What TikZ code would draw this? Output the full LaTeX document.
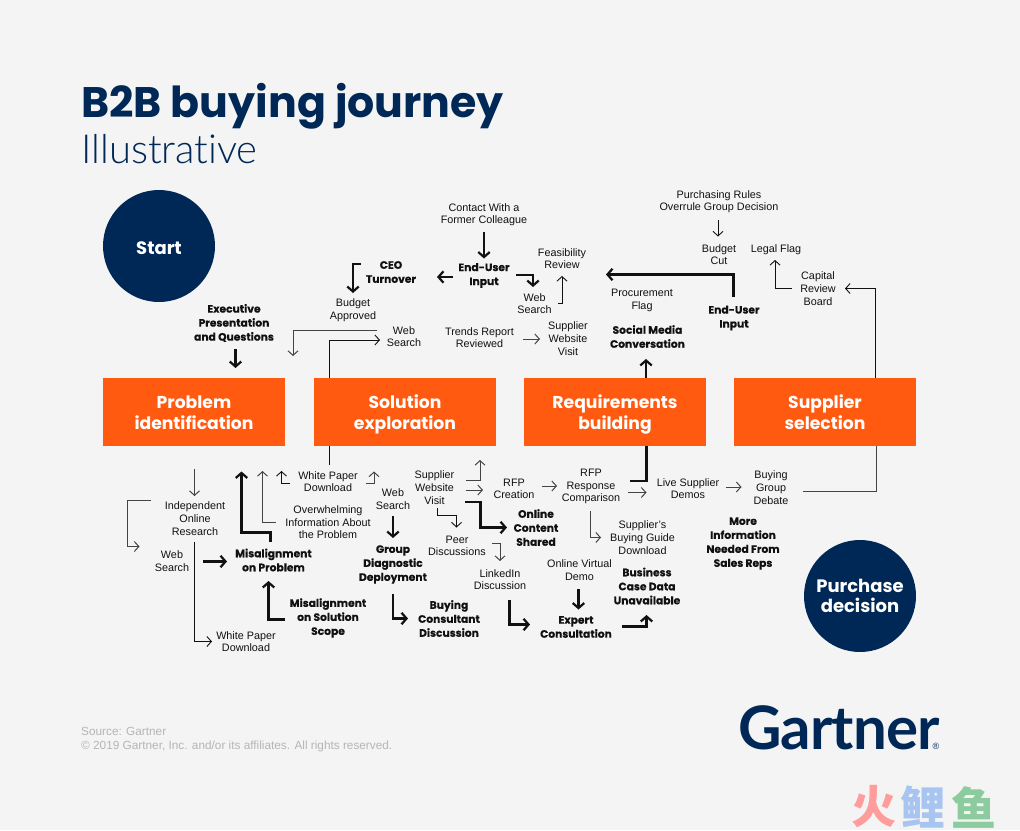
\documentclass[tikz,border=0pt]{standalone}
\usepackage{fontspec}
\setmainfont{Liberation Sans}
\newfontfamily\headfont{Poppins}
\newfontfamily\heavyfont{Poppins}[BoldFeatures={FakeBold=0.25}]
\newfontfamily\logofont{Lato}[LetterSpace=-1.5]
\newfontfamily\lightfont{Lato Light}[Ligatures=NoCommon]
\newfontfamily\cjkfont{Noto Sans CJK SC}
\usetikzlibrary{arrows.meta}
\definecolor{bgc}{HTML}{F4F4F4}
\definecolor{navy}{HTML}{002856}
\definecolor{orng}{HTML}{FF5A10}
\definecolor{ink}{HTML}{111111}
\definecolor{midgray}{HTML}{444444}
\definecolor{srcgray}{HTML}{B5B5B5}
\definecolor{wmred}{HTML}{FF9C9C}
\definecolor{wmblue}{HTML}{A8C4F0}
\definecolor{wmgreen}{HTML}{8CCB9E}
\tikzset{
  txt/.style={align=center,inner sep=0pt,yshift=-0.7pt,text=ink,font=\fontsize{10.8}{12.6}\selectfont},
  hvy/.style={align=center,inner sep=0pt,text=ink,font=\heavyfont\bfseries\fontsize{10.7}{14}\selectfont},
  stagebox/.style={fill=orng,minimum width=182pt,minimum height=68pt,inner sep=0pt,align=center,text=white,font=\headfont\bfseries\fontsize{17.2}{21}\selectfont},
  bubble/.style={circle,fill=navy,minimum size=112pt,inner sep=0pt,align=center,text=white,font=\headfont\bfseries},
  thinarrow/.style={draw=ink,line width=0.9pt,-{Straight Barb[length=4.5pt,width=10pt,line width=0.9pt]}},
  grayarrow/.style={draw=midgray,line width=1pt,-{Straight Barb[length=4.5pt,width=10pt,line width=1pt]}},
  thickarrow/.style={draw=ink,line width=2.2pt,-{Straight Barb[length=5pt,width=11.5pt,line width=2.2pt]}},
  plainline/.style={draw=ink,line width=0.9pt},
  thickline/.style={draw=ink,line width=2.2pt},
  wmark/.style={inner sep=0pt,font=\cjkfont\bfseries\fontsize{45}{45}\selectfont},
}
\newcommand{\boxtop}{\rule{0pt}{18pt}}
\begin{document}
\begin{tikzpicture}[x=1pt,y=-1pt]
\useasboundingbox (0,0) rectangle (1020,830);
\fill[bgc] (0,0) rectangle (1020,830);

% title
\node[anchor=base west,inner sep=0pt,text=navy,font=\headfont\bfseries\fontsize{42.7}{46}\selectfont] (title) at (81,117) {B2B buying journey};
\node[anchor=base west,inner sep=0pt,text=navy,font=\lightfont\fontsize{40}{44}\selectfont] (subtitle) at (81,163.5) {Illustrative};

% bubbles
\node[bubble,font=\headfont\bfseries\fontsize{18}{20}\selectfont] (start) at (159,246) {\rule{0pt}{17pt}Start};
\node[bubble,font=\headfont\bfseries\fontsize{18}{20}\selectfont] (purchase) at (860,596) {Purchase\\decision};

% stage boxes
\node[stagebox] (problem) at (194,412) {\boxtop Problem\\identification\vphantom{g}};
\node[stagebox] (solution) at (405,412) {\boxtop Solution\\exploration\vphantom{g}};
\node[stagebox] (requirements) at (615,412) {\boxtop Requirements\\building\vphantom{g}};
\node[stagebox] (selection) at (825,412) {\boxtop Supplier\\selection\vphantom{g}};

% upper texts
\node[txt] (contact) at (484,214) {Contact With a\\Former Colleague};
\node[hvy] (enduser) at (484,275.5) {End-User\\Input};
\node[hvy] (ceo) at (391,272) {CEO\\Turnover};
\node[txt] (feas) at (562,258) {Feasibility\\Review};
\node[txt] (websearcha) at (534.5,303) {Web\\Search};
\node[txt] (budgetappr) at (353,309.5) {Budget\\Approved};
\node[txt] (websearchb) at (404,336) {Web\\Search};
\node[txt] (trends) at (479.5,337) {Trends Report\\Reviewed};
\node[txt] (supvisita) at (568,338) {Supplier\\Website\\Visit};
\node[txt] (rules) at (719,201) {Purchasing Rules\\Overrule Group Decision};
\node[txt] (budgetcut) at (719,254) {Budget\\Cut};
\node[txt] (legal) at (776,249) {Legal Flag};
\node[txt] (capital) at (818,288) {Capital\\Review\\Board};
\node[txt] (procure) at (642,300) {Procurement\\Flag};
\node[hvy] (enduserb) at (734,318) {End-User\\Input};
\node[hvy] (social) at (647.5,336.5) {Social Media\\Conversation};
\node[hvy] (exec) at (234,323) {Executive\\Presentation\\and Questions};

% lower texts
\node[txt] (wpa) at (328,481) {White Paper\\Download};
\node[txt] (indep) at (195,518) {Independent\\Online\\Research};
\node[txt] (websearchc) at (172,560.5) {Web\\Search};
\node[txt] (overwhelm) at (328,521.5) {Overwhelming\\Information About\\the Problem};
\node[hvy] (misprob) at (273.5,560) {Misalignment\\on Problem};
\node[txt] (websearchd) at (393,498.5) {Web\\Search};
\node[txt] (supvisitb) at (434.5,487) {Supplier\\Website\\Visit};
\node[hvy] (group) at (393,564.5) {Group\\Diagnostic\\Deployment};
\node[hvy] (missol) at (328,618) {Misalignment\\on Solution\\Scope};
\node[txt] (wpb) at (246,641) {White Paper\\Download};
\node[hvy] (consult) at (449,618.5) {Buying\\Consultant\\Discussion};
\node[txt] (rfpc) at (514,488) {RFP\\Creation};
\node[txt] (rfpr) at (591,486) {RFP\\Response\\Comparison};
\node[hvy] (online) at (536,527.5) {Online\\Content\\Shared};
\node[txt] (peer) at (457,545) {Peer\\Discussions};
\node[txt] (linkedin) at (500,579) {LinkedIn\\Discussion};
\node[txt] (guide) at (642.5,537) {Supplier's\\Buying Guide\\Download};
\node[txt] (virtual) at (579.5,569.5) {Online Virtual\\Demo};
\node[hvy] (bizcase) at (647,586) {Business\\Case Data\\Unavailable};
\node[hvy] (expert) at (576,627) {Expert\\Consultation};
\node[txt] (live) at (688,488) {Live Supplier\\Demos};
\node[txt] (debate) at (771,487) {Buying\\Group\\Debate};
\node[hvy] (more) at (743,543.5) {More\\Information\\Needed From\\Sales Reps};

% footer
\node[anchor=base west,inner sep=0pt,align=left,text=srcgray,font=\fontsize{11.8}{14}\selectfont] (source) at (81,749) {Source: Gartner\\\textcopyright{} 2019 Gartner, Inc. and/or its affiliates. All rights reserved.};
\node[anchor=base west,inner sep=0pt,text=navy,font=\logofont\bfseries\fontsize{60}{60}\selectfont] (logo) at (738,749) {Gartner\kern-7pt{\fontsize{9}{9}\selectfont\normalfont\rmfamily ®}};
\node[wmark,text=wmred] (wma) at (874,807) {火};
\node[wmark,text=wmblue] (wmb) at (923,807) {鲤};
\node[wmark,text=wmgreen] (wmc) at (974,807) {鱼};

% free-end coordinates
\foreach \n/\x/\y in {
 a1s/484/232,a1e/484/258.5,a2s/453/277,a2e/437/277,a3s/516/275,a3k/533/275,a3e/533/287,
 a4s/558/303,a4k/562/303,a4e/562/276,a5s/361/264,a5k/353/264,a5e/353/293,
 a6s/377/330.5,a6k/293/330.5,a6e/293/356,a7k/329.5/340,a7e/380/340,a8s/523/339,a8e/540/339,
 a9s/718/220,a9e/718/236.5,a10s/733.5/297,a10k/733.5/274.5,a10e/606/274.5,
 a11s/792/288,a11k/775/288,a11e/775/260,a12k/875.5/288.5,a12e/845/288.5,a13k/646/378,a13e/646/359,
 b1s/194.5/469,b1e/194.5/496,b2s/151/500,b2a/127.5/500,b2b/127.5/546.5,b2e/139.5/546.5,
 b3s/194.5/542,b3k/194.5/641.5,b3e/212/641.5,b4s/203/561.5,b4e/227/561.5,
 b5s/270.5/541.5,b5a/270.5/532.5,b5b/241.5/532.5,b5e/241.5/471.5,
 b6s/275.5/522.5,b6k/262.5/522.5,b6e/262.5/471,b7s/290/483.5,b7k/281.5/483.5,b7e/281.5/471,
 b8k/329.5/446,b8e/329.5/465,b9s/365.5/483.5,b9k/374/483.5,b9e/374/471.5,
 b10s/285/619.5,b10k/268.5/619.5,b10e/268.5/581,b11s/393/516,b11e/393/538,
 b12s/393/594,b12k/393/618.5,b12e/408/618.5,
 c1s/466/480.5,c1k/480/480.5,c1e/480/460,c2s/466/490,c2e/483/490,
 c3s/465/502,c3a/480.5/502,c3b/480.5/527.5,c3e/507/527.5,
 c4s/437/508,c4a/437/515.5,c4b/456.5/515.5,c4e/456.5/527.5,
 c5s/491.5/543.5,c5k/500/543.5,c5e/500/561,c6s/541.5/486,c6e/557/486,
 c7s/590.5/511,c7k/590.5/537.5,c7e/601/537.5,c8k/646.5/446,c8a/646.5/481,c8e/629.5/481,
 c9s/628/492.5,c9e/646.5/492.5,c10s/578.5/589,c10e/578.5/609.5,
 c11s/509.5/599.5,c11k/509.5/624.5,c11e/530/624.5,c12s/622/626.5,c12k/646.5/626.5,c12e/646.5/615,
 d1s/725.5/487,d1e/741.5/487,d2k/876/446,d2a/876/491,d2e/802.5/491,
 e1s/235.5/349,e1e/235.5/368,f1k/329.5/378
}{\coordinate (\n) at (\x,\y);}

% connectors, upper
\draw[thickarrow] (a1s) -- (a1e);
\draw[thickarrow] (a2s) -- (a2e);
\draw[thickarrow] (a3s) -- (a3k) -- (a3e);
\draw[thinarrow] (a4s) -- (a4k) -- (a4e);
\draw[thickarrow] (a5s) -- (a5k) -- (a5e);
\draw[grayarrow] (a6s) -- (a6k) -- (a6e);
\draw[thinarrow] (f1k) -- (a7k) -- (a7e);
\draw[grayarrow] (a8s) -- (a8e);
\draw[thinarrow] (a9s) -- (a9e);
\draw[thickarrow] (a10s) -- (a10k) -- (a10e);
\draw[thinarrow] (a11s) -- (a11k) -- (a11e);
\draw[thinarrow] (selection.north -| a12k) -- (a12k) -- (a12e);
\draw[thickarrow] (requirements.north -| a13k) -- (a13e);
\draw[thickarrow] (e1s) -- (e1e);

% connectors, lower
\draw[grayarrow] (b1s) -- (b1e);
\draw[grayarrow] (b2s) -- (b2a) -- (b2b) -- (b2e);
\draw[thinarrow] (b3s) -- (b3k) -- (b3e);
\draw[thickarrow] (b4s) -- (b4e);
\draw[thickarrow] (b5s) -- (b5a) -- (b5b) -- (b5e);
\draw[grayarrow] (b6s) -- (b6k) -- (b6e);
\draw[thinarrow] (b7s) -- (b7k) -- (b7e);
\draw[plainline] (solution.south -| b8k) -- (b8e);
\draw[grayarrow] (b9s) -- (b9k) -- (b9e);
\draw[thickarrow] (b10s) -- (b10k) -- (b10e);
\draw[thickarrow] (b11s) -- (b11e);
\draw[thickarrow] (b12s) -- (b12k) -- (b12e);
\draw[grayarrow] (c1s) -- (c1k) -- (c1e);
\draw[grayarrow] (c2s) -- (c2e);
\draw[thickarrow] (c3s) -- (c3a) -- (c3b) -- (c3e);
\draw[thinarrow] (c4s) -- (c4a) -- (c4b) -- (c4e);
\draw[grayarrow] (c5s) -- (c5k) -- (c5e);
\draw[grayarrow] (c6s) -- (c6e);
\draw[grayarrow] (c7s) -- (c7k) -- (c7e);
\draw[thickline] (requirements.south -| c8k) -- (c8a) -- (c8e);
\draw[grayarrow] (c9s) -- (c9e);
\draw[thickarrow] (c10s) -- (c10e);
\draw[thickarrow] (c11s) -- (c11k) -- (c11e);
\draw[thickarrow] (c12s) -- (c12k) -- (c12e);
\draw[grayarrow] (d1s) -- (d1e);
\draw[draw=midgray,line width=1pt] (selection.south -| d2k) -- (d2a) -- (d2e);
\end{tikzpicture}
\end{document}
